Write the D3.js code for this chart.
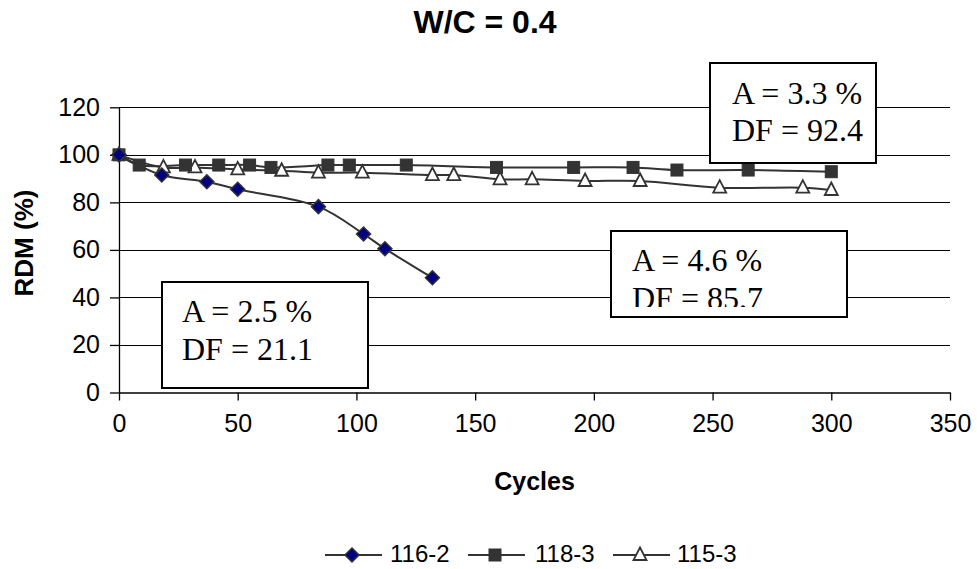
<!DOCTYPE html>
<html><head><meta charset="utf-8">
<script src="https://cdn.jsdelivr.net/npm/d3@7"></script>
<style>html,body{margin:0;padding:0;background:#fff;}svg{display:block;}</style>
</head><body>
<svg id="chart" width="977" height="569"></svg>
<script>
const chartTitle = "W/C = 0.4";
const xTitle = "Cycles";
const yTitle = "RDM (%)";
const xTicks = [0, 50, 100, 150, 200, 250, 300, 350];
const yTicks = [0, 20, 40, 60, 80, 100, 120];
const seriesNames = ["116-2", "118-3", "115-3"];
const cycles116 = [0, 18, 37, 50, 84, 103, 112, 132];
const rdm116 = [100, 91.5, 88.7, 85.5, 78.2, 66.7, 60.5, 48.3];
const cycles118 = [0, 8.5, 28, 42, 55, 64, 88, 97, 121, 159, 191.5, 216.5, 235, 265, 300];
const rdm118 = [100, 95.7, 95.7, 95.7, 95.7, 94.7, 95.7, 95.7, 95.7, 94.7, 94.7, 94.7, 93.6, 93.6, 92.9];
const cycles115 = [0, 18.7, 32, 50, 68.5, 84, 102.5, 132, 141, 160.5, 174, 196.3, 219.5, 253, 288, 300];
const rdm115 = [100, 94.7, 94.7, 93.9, 93.3, 92.5, 92.5, 91.5, 91.5, 89.7, 89.7, 89, 89, 86.2, 86.2, 85.2];
const boxLines = [["A = 2.5 %", "DF = 21.1"], ["A = 4.6 %", "DF = 85.7"], ["A = 3.3 %", "DF = 92.4"]];

const svg = d3.select("#chart");
const x = d3.scaleLinear().domain([0, 350]).range([119, 950]);
const y = d3.scaleLinear().domain([0, 120]).range([392.5, 107.3]);
const sans = "'Liberation Sans', Arial, sans-serif";
const serif = "'Liberation Serif', 'Times New Roman', serif";
const lineCol = "#333";

// gridlines
svg.append("g").selectAll("line").data(yTicks.filter(v => v > 0)).join("line")
  .attr("x1", x(0)).attr("x2", x(350))
  .attr("y1", d => Math.round(y(d)) + 0.5).attr("y2", d => Math.round(y(d)) + 0.5)
  .attr("stroke", "#000").attr("stroke-width", 1);

// axes
const xAxis = d3.axisBottom(x).tickValues(xTicks).tickSize(8).tickSizeOuter(0).tickPadding(14);
const gx = svg.append("g").attr("transform", `translate(0,${y(0)})`).call(xAxis);
const yAxis = d3.axisLeft(y).tickValues(yTicks).tickSize(9).tickSizeOuter(0).tickPadding(10);
const gy = svg.append("g").attr("transform", `translate(${x(0)},0)`).call(yAxis);
[gx, gy].forEach(g => {
  g.select(".domain").attr("stroke", "#000").attr("stroke-width", 1.3);
  g.selectAll(".tick line").attr("stroke", "#000").attr("stroke-width", 1.3);
  g.selectAll(".tick text").attr("font-family", sans).attr("font-size", 25).attr("fill", "#000");
});

// titles
svg.append("text").attr("x", 485).attr("y", 33).attr("text-anchor", "middle")
  .attr("font-family", sans).attr("font-weight", "bold").attr("font-size", 32).text(chartTitle);
svg.append("text").attr("x", x(175)).attr("y", 490).attr("text-anchor", "middle")
  .attr("font-family", sans).attr("font-weight", "bold").attr("font-size", 25).text(xTitle);
svg.append("text").attr("transform", "translate(33,243) rotate(-90)").attr("text-anchor", "middle")
  .attr("font-family", sans).attr("font-weight", "bold").attr("font-size", 26).text(yTitle);

// series
const series = [
  {name: seriesNames[0], xs: cycles116, ys: rdm116, marker: "diamond"},
  {name: seriesNames[1], xs: cycles118, ys: rdm118, marker: "square"},
  {name: seriesNames[2], xs: cycles115, ys: rdm115, marker: "triangle"}
];
const line = d3.line().x(d => x(d[0])).y(d => y(d[1])).curve(d3.curveCatmullRom.alpha(0.5));

function drawMarker(g, type, cx, cy) {
  if (type === "diamond") {
    g.append("path").attr("d", `M${cx},${cy-7}L${cx+7},${cy}L${cx},${cy+7}L${cx-7},${cy}Z`)
      .attr("fill", "#000080").attr("stroke", lineCol).attr("stroke-width", 1.5);
  } else if (type === "square") {
    g.append("rect").attr("x", cx - 6).attr("y", cy - 6).attr("width", 12).attr("height", 12)
      .attr("fill", lineCol).attr("stroke", lineCol).attr("stroke-width", 1);
  } else {
    g.append("path").attr("d", `M${cx},${cy-7.5}L${cx+6.5},${cy+5}L${cx-6.5},${cy+5}Z`)
      .attr("fill", "#fff").attr("stroke", lineCol).attr("stroke-width", 1.8);
  }
}

series.forEach(s => {
  const pts = s.xs.map((v, i) => [v, s.ys[i]]);
  svg.append("path").attr("d", line(pts)).attr("fill", "none")
    .attr("stroke", lineCol).attr("stroke-width", 2);
});
[2, 1, 0].forEach(k => {
  const s = series[k];
  const g = svg.append("g");
  s.xs.forEach((v, i) => drawMarker(g, s.marker, x(v), y(s.ys[i])));
});

// text boxes
const boxes = [
  {x0: 162, y0: 282, w: 206, h: 106, tx: 182, ty: 322},
  {x0: 611, y0: 231, w: 236, h: 86, tx: 632, ty: 271, clipBottom: 307},
  {x0: 710, y0: 63, w: 166, h: 100, tx: 732, ty: 103.5}
];
const defs = svg.append("defs");
boxes.forEach((b, i) => {
  const g = svg.append("g");
  g.append("rect").attr("x", b.x0).attr("y", b.y0).attr("width", b.w).attr("height", b.h)
    .attr("fill", "#fff").attr("stroke", "#000").attr("stroke-width", 2);
  const cid = "clip" + i;
  defs.append("clipPath").attr("id", cid).append("rect")
    .attr("x", b.x0).attr("y", b.y0).attr("width", b.w)
    .attr("height", (b.clipBottom || (b.y0 + b.h - 2)) - b.y0);
  const t = g.append("text").attr("clip-path", `url(#${cid})`)
    .attr("font-family", serif).attr("font-size", 32).attr("fill", "#000");
  boxLines[i].forEach((ln, j) => {
    t.append("tspan").attr("x", b.tx).attr("y", b.ty + j * 37.6).text(ln);
  });
});

// legend
const legendItems = [
  {lx: 325, tx: 390},
  {lx: 468, tx: 535},
  {lx: 613, tx: 677}
];
const ly = 555;
legendItems.forEach((it, i) => {
  const g = svg.append("g");
  g.append("line").attr("x1", it.lx).attr("x2", it.lx + 57).attr("y1", ly).attr("y2", ly)
    .attr("stroke", lineCol).attr("stroke-width", 2);
  drawMarker(g, series[i].marker, it.lx + 27, ly);
  g.append("text").attr("x", it.tx).attr("y", ly + 7).attr("font-family", sans)
    .attr("font-size", 24).attr("fill", "#000").text(series[i].name);
});
</script>
</body></html>
